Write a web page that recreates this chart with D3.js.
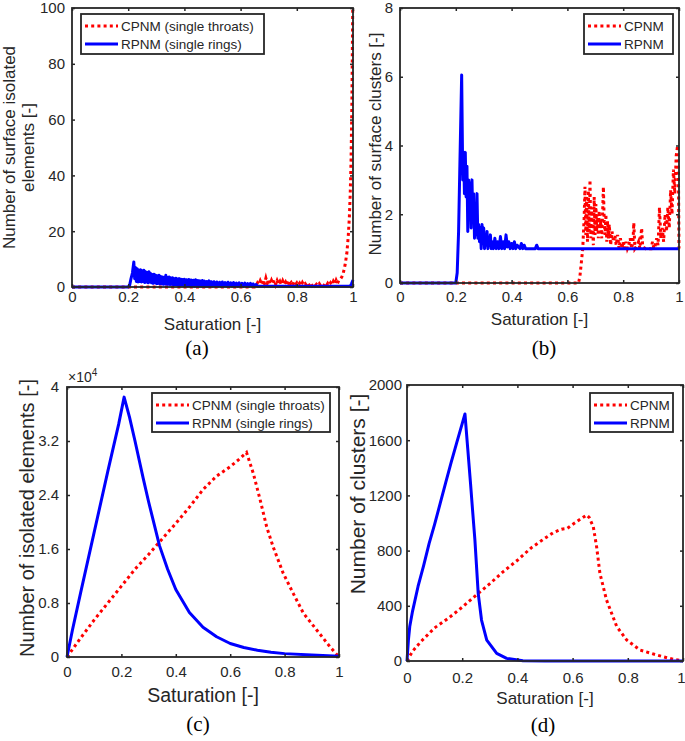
<!DOCTYPE html>
<html><head><meta charset="utf-8">
<script src="https://cdn.jsdelivr.net/npm/d3@7"></script>
<style>body{margin:0;background:#fff}svg text{font-family:"Liberation Sans",Arial,Helvetica,sans-serif;fill:#262626}</style>
</head><body>
<svg id="fig" width="685" height="741"></svg>
<script>
// ---------- data ----------
const saturationTicks = [0, 0.2, 0.4, 0.6, 0.8, 1];
const yTicksA = [0, 20, 40, 60, 80, 100];
const yTicksB = [0, 2, 4, 6, 8];
const yTicksC = [0, 8000, 16000, 24000, 32000, 40000];
const yTickLabelsC = ["0", "0.8", "1.6", "2.4", "3.2", "4"];
const yTicksD = [0, 400, 800, 1200, 1600, 2000];

const legendA = ["CPNM (single throats)", "RPNM (single rings)"];
const legendB = ["CPNM", "RPNM"];
const legendC = ["CPNM (single throats)", "RPNM (single rings)"];
const legendD = ["CPNM", "RPNM"];

// (a) surface isolated elements  [saturation, count]
const cpnmA = [[0,0],[0.65,0],[0.655,0.5],[0.66,1.5],[0.665,0.8],[0.67,2.2],[0.675,1.0],[0.68,2.6],[0.685,1.2],[0.69,3.2],[0.695,1.4],[0.70,2.8],[0.705,1.0],[0.71,2.4],[0.715,1.2],[0.72,2.6],[0.725,0.9],[0.73,2.3],[0.735,1.1],[0.74,2.0],[0.745,0.8],[0.75,2.2],[0.755,1.0],[0.76,1.8],[0.765,0.7],[0.77,2.0],[0.775,0.9],[0.78,1.6],[0.785,0.6],[0.79,1.8],[0.795,0.8],[0.80,1.5],[0.805,0.6],[0.81,1.4],[0.815,0.5],[0.82,1.6],[0.825,0.7],[0.83,1.2],[0.835,0.5],[0.84,1.3],[0.845,0.6],[0.85,1.5],[0.855,0.5],[0.86,1.1],[0.865,0.4],[0.87,1.0],[0.875,0.5],[0.88,1.2],[0.885,0.4],[0.89,1.0],[0.895,0.5],[0.90,1.1],[0.905,0.4],[0.91,1.3],[0.915,0.6],[0.92,1.5],[0.925,0.7],[0.93,2.0],[0.935,1.0],[0.94,2.4],[0.945,1.3],[0.95,2.5],[0.955,2.8],[0.96,3.6],[0.965,4.8],[0.972,8],[0.978,12],[0.983,18],[0.987,25],[0.99,33],[0.993,45],[0.996,65],[0.999,100]];
const rpnmA = [[0,0],[0.2,0],[0.205,0.6],[0.21,3],[0.215,5],[0.22,9],[0.223,3],[0.226,7],[0.229,2],[0.232,6.5],[0.235,1.8],[0.238,6],[0.241,2],[0.244,6.2],[0.247,1.8],[0.25,5.8],[0.253,2],[0.256,6],[0.259,1.6],[0.262,5.5],[0.265,1.8],[0.268,5.2],[0.271,1.5],[0.274,5.5],[0.277,1.8],[0.28,4.8],[0.283,1.5],[0.286,4.5],[0.289,1.3],[0.292,4.6],[0.295,1.5],[0.298,4.2],[0.301,1.2],[0.304,4],[0.307,1.3],[0.31,4.2],[0.313,1.1],[0.316,3.8],[0.319,1.2],[0.322,3.6],[0.325,1.0],[0.328,3.5],[0.331,1.1],[0.334,4.2],[0.337,1.0],[0.34,3.4],[0.343,1.0],[0.346,3.6],[0.349,0.9],[0.352,3.2],[0.355,1.0],[0.358,3.3],[0.361,0.8],[0.364,3.0],[0.367,0.9],[0.37,3.1],[0.373,0.8],[0.376,2.9],[0.379,0.8],[0.382,3.0],[0.385,0.7],[0.388,2.8],[0.391,0.7],[0.394,2.7],[0.397,0.6],[0.40,2.8],[0.404,0.5],[0.408,2.6],[0.412,0.4],[0.416,2.7],[0.42,0.4],[0.424,2.5],[0.428,0.4],[0.432,2.4],[0.436,0.3],[0.44,2.6],[0.444,0.3],[0.448,2.3],[0.452,0.3],[0.456,2.2],[0.46,0.3],[0.464,2.3],[0.468,0.3],[0.472,2.1],[0.476,0.3],[0.48,2.0],[0.484,0.3],[0.488,2.2],[0.492,0.3],[0.496,1.9],[0.5,0.3],[0.505,1.9],[0.51,0.3],[0.515,1.8],[0.52,0.3],[0.525,1.7],[0.53,0.3],[0.535,1.8],[0.54,0.3],[0.545,1.6],[0.55,0.3],[0.555,1.7],[0.56,0.3],[0.565,1.5],[0.57,0.3],[0.575,1.6],[0.58,0.3],[0.585,1.4],[0.59,0.3],[0.595,1.5],[0.6,0.3],[0.605,1.3],[0.61,0.3],[0.615,1.4],[0.62,0.3],[0.625,1.2],[0.63,0.3],[0.635,1.3],[0.64,0.3],[0.645,1.1],[0.65,0.3],[0.655,0.9],[0.66,0.3],[0.7,0.3],[0.9,0.3],[0.99,0.3],[0.995,1.2],[1.0,2.5]];

// (b) surface clusters
const cpnmB = [[0,0],[0.64,0],[0.645,0.2],[0.65,0.6],[0.655,1.0],[0.66,1.9],[0.663,2.8],[0.666,1.4],[0.669,2.5],[0.672,1.2],[0.675,2.7],[0.678,1.5],[0.681,3.0],[0.684,1.3],[0.687,2.2],[0.690,1.6],[0.693,1.1],[0.696,2.5],[0.699,1.4],[0.702,2.3],[0.705,1.5],[0.708,2.0],[0.711,1.3],[0.714,2.1],[0.717,1.6],[0.720,1.8],[0.723,1.3],[0.726,2.0],[0.729,2.8],[0.732,1.8],[0.735,1.4],[0.738,2.0],[0.741,1.2],[0.744,1.8],[0.747,1.3],[0.750,1.7],[0.755,1.1],[0.760,1.5],[0.765,1.2],[0.770,1.4],[0.775,1.1],[0.780,1.4],[0.785,1.0],[0.790,1.3],[0.795,1.0],[0.800,1.2],[0.805,1.0],[0.810,1.2],[0.815,1.0],[0.820,1.1],[0.825,1.3],[0.830,1.0],[0.835,1.2],[0.838,1.75],[0.842,1.0],[0.850,1.1],[0.855,1.2],[0.860,1.0],[0.866,1.6],[0.870,1.05],[0.880,1.0],[0.900,1.0],[0.905,1.2],[0.910,1.0],[0.915,1.1],[0.920,1.3],[0.925,1.1],[0.930,2.2],[0.935,1.3],[0.940,1.6],[0.945,1.2],[0.950,2.0],[0.955,1.5],[0.960,2.2],[0.965,1.6],[0.970,2.7],[0.975,2.0],[0.980,3.3],[0.985,2.6],[0.990,3.7],[0.995,4.0],[0.998,3.2],[1.000,1.0]];
const rpnmB = [[0,0],[0.2,0],[0.205,0.3],[0.21,1.5],[0.215,3.6],[0.221,6.05],[0.225,3.0],[0.228,3.8],[0.231,2.6],[0.234,3.8],[0.237,2.5],[0.240,3.4],[0.243,1.5],[0.246,3.0],[0.249,2.2],[0.252,2.9],[0.255,1.6],[0.258,3.0],[0.261,1.8],[0.264,2.6],[0.267,1.3],[0.270,2.0],[0.273,1.4],[0.276,2.6],[0.279,1.3],[0.282,1.7],[0.285,1.2],[0.288,1.6],[0.291,1.0],[0.294,1.7],[0.297,1.2],[0.300,1.6],[0.303,1.0],[0.306,1.4],[0.309,1.1],[0.312,1.5],[0.315,1.0],[0.318,1.3],[0.321,1.1],[0.324,1.4],[0.327,1.0],[0.330,1.2],[0.335,1.0],[0.340,1.3],[0.345,1.0],[0.350,1.2],[0.355,1.0],[0.360,1.35],[0.365,1.0],[0.370,1.2],[0.375,1.0],[0.380,1.4],[0.385,1.05],[0.390,1.2],[0.395,1.0],[0.400,1.15],[0.405,1.0],[0.410,1.2],[0.415,1.0],[0.420,1.1],[0.430,1.0],[0.435,1.15],[0.440,1.0],[0.445,1.1],[0.450,1.0],[0.485,1.0],[0.490,1.1],[0.495,1.0],[1.0,1.0]];

// (c) isolated elements
const cpnmC = [[0,0],[0.05,2800],[0.1,5500],[0.15,8000],[0.2,10500],[0.25,13000],[0.3,15200],[0.35,17500],[0.4,19800],[0.45,22200],[0.5,24800],[0.55,26800],[0.6,28200],[0.63,29200],[0.66,30300],[0.685,27200],[0.71,23300],[0.734,19300],[0.758,16300],[0.795,12400],[0.832,9400],[0.869,6500],[0.918,4000],[0.967,1500],[1.0,0]];
const rpnmC = [[0,0],[0.02,4000],[0.05,9500],[0.1,18500],[0.15,27500],[0.19,34500],[0.21,38500],[0.23,35500],[0.25,32000],[0.28,26500],[0.3,23000],[0.34,16500],[0.37,13000],[0.4,10000],[0.45,6600],[0.5,4400],[0.55,3000],[0.6,2000],[0.65,1400],[0.7,1000],[0.75,700],[0.8,500],[0.9,300],[1.0,100]];

// (d) clusters
const cpnmD = [[0,0],[0.02,70],[0.05,140],[0.1,240],[0.15,310],[0.2,390],[0.258,490],[0.3,560],[0.35,650],[0.4,730],[0.45,820],[0.5,890],[0.53,930],[0.56,955],[0.58,960],[0.6,990],[0.63,1030],[0.651,1058],[0.66,1040],[0.675,973],[0.687,828],[0.699,635],[0.723,442],[0.76,249],[0.796,152],[0.844,80],[0.905,43],[0.965,12],[1.0,0]];
const rpnmD = [[0,0],[0.005,150],[0.01,250],[0.02,360],[0.04,540],[0.06,690],[0.08,850],[0.1,990],[0.12,1140],[0.14,1290],[0.16,1440],[0.18,1580],[0.2,1720],[0.21,1790],[0.22,1540],[0.23,1290],[0.24,1030],[0.246,877],[0.258,490],[0.27,297],[0.289,152],[0.325,55],[0.361,19],[0.42,2],[0.5,0],[1.0,0]];

// ---------- drawing ----------
const svg = d3.select("#fig");
const RED = "#ff0000", BLUE = "#0000ff", AX = "#262626";

const panels = [
  {l:72, r:353, t:8, b:287, yMax:100, yTicks:yTicksA, yFmt:d=>String(d), cp:cpnmA, rp:rpnmA, legend:legendA,
   lg:{x:81,y:14,w:183,h:40}, xPad:4, yPad:7, xlab:{y:330,size:17}, ylab:{lines:["Number of surface isolated","elements [-]"],xs:[15,34],cy:147.5,size:17},
   tag:{text:"(a)",x:197,y:355}},
  {l:400, r:679, t:8, b:283, yMax:8, yTicks:yTicksB, yFmt:d=>String(d), cp:cpnmB, rp:rpnmB, legend:legendB,
   lg:{x:584,y:14,w:89,h:40}, xPad:8, yPad:7, xlab:{y:325,size:17}, ylab:{lines:["Number of surface clusters [-]"],xs:[381],cy:144,size:17},
   tag:{text:"(b)",x:544,y:355}},
  {l:67, r:339, t:387, b:657, yMax:40000, yTicks:yTicksC, yFmt:(d,i)=>yTickLabelsC[i], cp:cpnmC, rp:rpnmC, legend:legendC,
   lg:{x:152,y:393,w:178,h:39}, xPad:9, yPad:8, xlab:{y:702,size:19.5}, ylab:{lines:["Number of isolated elements [-]"],xs:[34],cy:518,size:20},
   tag:{text:"(c)",x:198,y:731}, exponent:true},
  {l:407, r:683, t:385, b:661, yMax:2000, yTicks:yTicksD, yFmt:d=>String(d), cp:cpnmD, rp:rpnmD, legend:legendD,
   lg:{x:590,y:393,w:83,h:39}, xPad:11, yPad:5, xlab:{y:704,size:17}, ylab:{lines:["Number of clusters [-]"],xs:[365],cy:494,size:21},
   tag:{text:"(d)",x:543,y:732}, lastTickShift:-2}
];

panels.forEach((p, k) => {
  const g = svg.append("g");
  const x = d3.scaleLinear().domain([0,1]).range([p.l, p.r]);
  const y = d3.scaleLinear().domain([0,p.yMax]).range([p.b, p.t]);
  const clipId = "clip" + k;
  svg.append("defs").append("clipPath").attr("id", clipId)
    .append("rect").attr("x", p.l - 2).attr("y", p.t - 2).attr("width", p.r - p.l + 4).attr("height", p.b - p.t + 4);

  const line = d3.line().x(d => x(d[0])).y(d => y(d[1]));
  const plot = g.append("g").attr("clip-path", `url(#${clipId})`);
  plot.append("path").datum(p.cp).attr("d", line).attr("fill","none").attr("stroke",RED)
    .attr("stroke-width",3).attr("stroke-dasharray","3,3.2");
  plot.append("path").datum(p.rp).attr("d", line).attr("fill","none").attr("stroke",BLUE)
    .attr("stroke-width",3).attr("stroke-linejoin","round");

  // axes (ticks inward on all four sides)
  const fmtX = d => String(d);
  const axB = g.append("g").attr("transform",`translate(0,${p.b})`)
    .call(d3.axisBottom(x).tickValues(saturationTicks).tickFormat(fmtX).tickSizeInner(-3).tickSizeOuter(0).tickPadding(p.xPad));
  const axT = g.append("g").attr("transform",`translate(0,${p.t})`)
    .call(d3.axisTop(x).tickValues(saturationTicks).tickFormat("").tickSizeInner(-3).tickSizeOuter(0));
  const axL = g.append("g").attr("transform",`translate(${p.l},0)`)
    .call(d3.axisLeft(y).tickValues(p.yTicks).tickFormat(p.yFmt).tickSizeInner(-3).tickSizeOuter(0).tickPadding(p.yPad));
  const axR = g.append("g").attr("transform",`translate(${p.r},0)`)
    .call(d3.axisRight(y).tickValues(p.yTicks).tickFormat("").tickSizeInner(-3).tickSizeOuter(0));
  [axB, axT, axL, axR].forEach(a => {
    a.select(".domain").remove();
    a.selectAll(".tick line").attr("stroke", AX).attr("stroke-width", 1.5);
    a.selectAll("text").attr("font-size", 15).attr("fill", AX).style("font-family", '"Liberation Sans",Arial,sans-serif');
  });
  if (p.lastTickShift) {
    axB.selectAll(".tick text").filter(d => d === 1).attr("x", p.lastTickShift);
  }
  g.append("rect").attr("x",p.l).attr("y",p.t).attr("width",p.r-p.l).attr("height",p.b-p.t)
    .attr("fill","none").attr("stroke",AX).attr("stroke-width",1.8);

  if (p.exponent) {
    const t = g.append("text").attr("x", p.l + 1).attr("y", p.t - 5).attr("font-size", 14);
    t.append("tspan").text("\u00d710");
    t.append("tspan").attr("dy", -6).attr("font-size", 10).text("4");
  }

  // axis labels
  g.append("text").attr("x",(p.l+p.r)/2).attr("y",p.xlab.y).attr("text-anchor","middle")
    .attr("font-size",p.xlab.size).text("Saturation [-]");
  p.ylab.lines.forEach((s,i) => {
    g.append("text").attr("transform",`translate(${p.ylab.xs[i]},${p.ylab.cy}) rotate(-90)`)
      .attr("text-anchor","middle").attr("font-size",p.ylab.size).text(s);
  });

  // legend
  const lg = g.append("g");
  lg.append("rect").attr("x",p.lg.x).attr("y",p.lg.y).attr("width",p.lg.w).attr("height",p.lg.h)
    .attr("fill","#fff").attr("stroke",AX).attr("stroke-width",1.8);
  const rowY = [p.lg.y + 12, p.lg.y + 30];
  p.legend.forEach((s,i) => {
    lg.append("line").attr("x1",p.lg.x+4).attr("x2",p.lg.x+37).attr("y1",rowY[i]).attr("y2",rowY[i])
      .attr("stroke", i===0?RED:BLUE).attr("stroke-width",3)
      .attr("stroke-dasharray", i===0?"3,3.2":null);
    lg.append("text").attr("x",p.lg.x+40).attr("y",rowY[i]).attr("dy","0.35em").attr("font-size",13.5).text(s);
  });

  // panel tag
  svg.append("text").attr("x",p.tag.x).attr("y",p.tag.y).attr("text-anchor","middle")
    .attr("font-size",21).style("font-family",'"Liberation Serif","Times New Roman",serif').style("fill","#000")
    .text(p.tag.text);
});
</script>
</body></html>
